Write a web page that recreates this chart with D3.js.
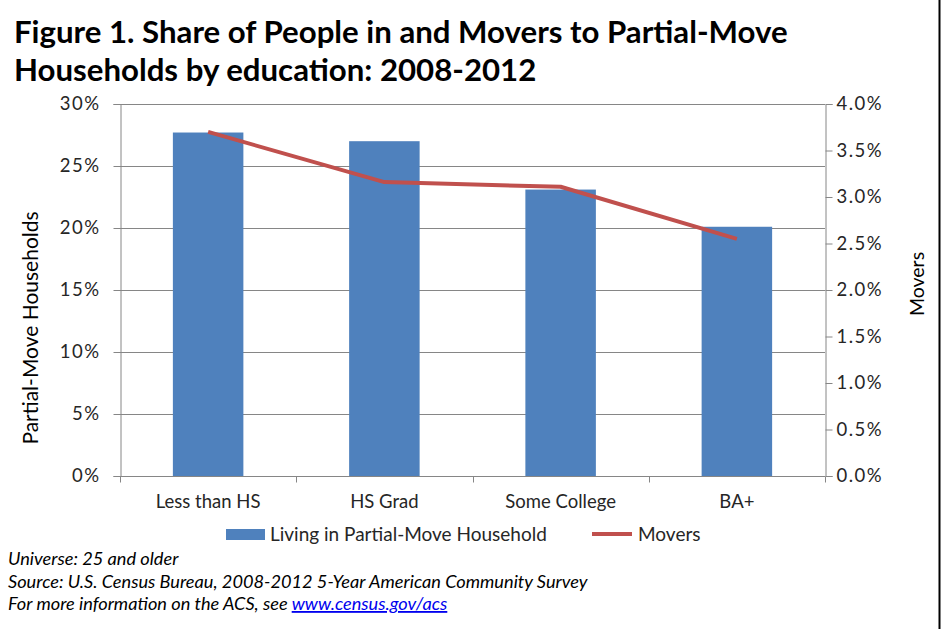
<!DOCTYPE html>
<html>
<head>
<meta charset="utf-8">
<script src="https://cdn.jsdelivr.net/npm/d3@7"></script>
<style>
  body { margin: 0; background: #fff; }
  svg { display: block; font-family: Lato, "Open Sans", sans-serif; }
</style>
</head>
<body>
<div id="chart"></div>
<script>
// data
const categories = ["Less than HS", "HS Grad", "Some College", "BA+"];
const partialMoveShare = [0.277, 0.270, 0.231, 0.201];
const moversShare = [0.0370, 0.0316, 0.0311, 0.0255];
const leftTicks = [0, 0.05, 0.10, 0.15, 0.20, 0.25, 0.30];
const rightTicks = [0, 0.005, 0.01, 0.015, 0.02, 0.025, 0.03, 0.035, 0.04];
const titleLines = [
  "Figure 1. Share of People in and Movers to Partial-Move",
  "Households by education: 2008-2012"
];
const notes = [
  "Universe: 25 and older",
  "Source: U.S. Census Bureau, 2008-2012 5-Year American Community Survey",
  "For more information on the ACS, see "
];

// set up svg
const width = 941;
const height = 629;
const margin = { top: 104, right: 825, bottom: 476, left: 120 };
const barColor = "#4f81bd";
const lineColor = "#c0504d";
const gridColor = "#868686";

const svg = d3.select("#chart")
  .append("svg")
  .attr("width", width)
  .attr("height", height);

// scales
const x = d3.scaleBand()
  .domain(categories)
  .range([margin.left, margin.right])
  .paddingInner(0.6)
  .paddingOuter(0.3);

const xOuter = d3.scaleBand()
  .domain(categories)
  .range([margin.left, margin.right]);

const yLeft = d3.scaleLinear().domain([0, 0.30]).range([margin.bottom, margin.top]);
const yRight = d3.scaleLinear().domain([0, 0.04]).range([margin.bottom, margin.top]);

// title
svg.append("g")
  .selectAll("text")
  .data(titleLines)
  .join("text")
  .attr("x", 14)
  .attr("y", (d, i) => 43 + i * 38)
  .attr("font-size", 31.2)
  .attr("font-weight", "bold")
  .attr("fill", "#000")
  .text(d => d);

// gridlines
svg.append("g")
  .selectAll("line")
  .data(leftTicks)
  .join("line")
  .attr("x1", margin.left)
  .attr("x2", margin.right)
  .attr("y1", d => Math.round(yLeft(d)) + 0.5)
  .attr("y2", d => Math.round(yLeft(d)) + 0.5)
  .attr("stroke", gridColor)
  .attr("stroke-width", 1);

// bars
svg.append("g")
  .selectAll("rect")
  .data(partialMoveShare)
  .join("rect")
  .attr("x", (d, i) => x(categories[i]))
  .attr("width", x.bandwidth())
  .attr("y", d => yLeft(d))
  .attr("height", d => yLeft(0) - yLeft(d))
  .attr("fill", barColor);

// axes
const fmtLeft = d3.format(".0%");
const fmtRight = d3.format(".1%");

const leftAxis = svg.append("g")
  .attr("transform", `translate(${margin.left + 0.5},0)`)
  .call(d3.axisLeft(yLeft).tickValues(leftTicks).tickFormat(fmtLeft).tickSize(7).tickPadding(13));

const rightAxis = svg.append("g")
  .attr("transform", `translate(${margin.right + 0.5},0)`)
  .call(d3.axisRight(yRight).tickValues(rightTicks).tickFormat(fmtRight).tickSize(7).tickPadding(4));

const bottomAxis = svg.append("g")
  .attr("transform", `translate(0,${margin.bottom + 0.5})`)
  .call(d3.axisBottom(xOuter).tickSize(0).tickPadding(18));

[leftAxis, rightAxis, bottomAxis].forEach(g => {
  g.select(".domain").attr("stroke", gridColor);
  g.selectAll(".tick line").attr("stroke", gridColor);
  g.selectAll(".tick text")
    .attr("font-size", 18.5)
    .attr("font-family", "Lato, sans-serif")
    .attr("fill", "#262626");
});
[leftAxis, rightAxis].forEach(g => {
  g.selectAll(".tick text").attr("letter-spacing", 1.5);
});
bottomAxis.select(".domain").remove();
bottomAxis.append("line")
  .attr("x1", margin.left)
  .attr("x2", margin.right)
  .attr("stroke", gridColor);

// category boundary ticks on x axis
bottomAxis.append("g")
  .selectAll("line")
  .data(categories.concat(["end"]))
  .join("line")
  .attr("x1", (d, i) => Math.round(margin.left + i * xOuter.step()) + 0.5)
  .attr("x2", (d, i) => Math.round(margin.left + i * xOuter.step()) + 0.5)
  .attr("y1", 0)
  .attr("y2", 6)
  .attr("stroke", gridColor);

// movers line
const line = d3.line()
  .x((d, i) => xOuter(categories[i]) + xOuter.bandwidth() / 2)
  .y(d => yRight(d));

svg.append("path")
  .datum(moversShare)
  .attr("d", line)
  .attr("fill", "none")
  .attr("stroke", lineColor)
  .attr("stroke-width", 4)
  .attr("stroke-linejoin", "round");

// axis titles
svg.append("text")
  .attr("transform", `translate(38,${(margin.top + margin.bottom) / 2 + 38}) rotate(-90)`)
  .attr("text-anchor", "middle")
  .attr("font-size", 21)
  .attr("fill", "#000")
  .text("Partial-Move Households");

svg.append("text")
  .attr("transform", `translate(924,${(margin.top + margin.bottom) / 2 - 6}) rotate(-90)`)
  .attr("text-anchor", "middle")
  .attr("font-size", 19.5)
  .attr("fill", "#000")
  .text("Movers");

// legend
const legend = svg.append("g").attr("transform", "translate(0,534)");
legend.append("rect")
  .attr("x", 226).attr("y", -5)
  .attr("width", 39).attr("height", 11)
  .attr("fill", barColor);
legend.append("text")
  .attr("x", 270).attr("y", 7)
  .attr("font-size", 19)
  .attr("fill", "#262626")
  .text("Living in Partial-Move Household");
legend.append("line")
  .attr("x1", 592).attr("x2", 632)
  .attr("y1", 0).attr("y2", 0)
  .attr("stroke", lineColor)
  .attr("stroke-width", 4);
legend.append("text")
  .attr("x", 638).attr("y", 7)
  .attr("font-size", 19)
  .attr("fill", "#262626")
  .text("Movers");

// notes
const noteG = svg.append("g");
noteG.selectAll("text")
  .data(notes)
  .join("text")
  .attr("x", 8)
  .attr("y", (d, i) => 565 + i * 22.5)
  .attr("font-size", 18.2)
  .attr("font-style", "italic")
  .attr("fill", "#000")
  .text(d => d)
  .filter((d, i) => i === notes.length - 1)
  .append("tspan")
  .attr("fill", "#0000ee")
  .attr("text-decoration", "underline")
  .text("www.census.gov/acs");

// right border
svg.append("line")
  .attr("x1", 939.5).attr("x2", 939.5)
  .attr("y1", 0).attr("y2", height)
  .attr("stroke", "#000")
  .attr("stroke-width", 2);
</script>
</body>
</html>
